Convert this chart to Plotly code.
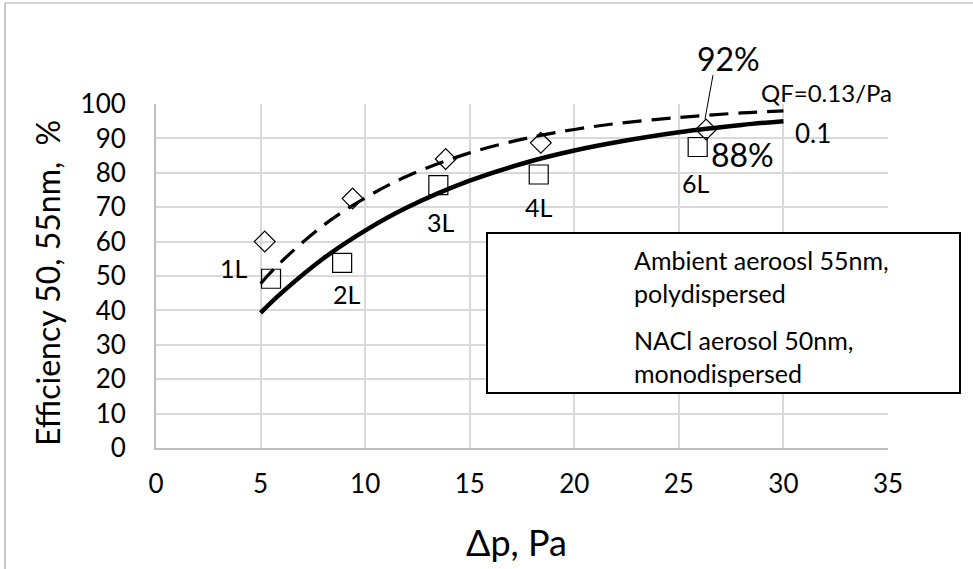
import plotly.graph_objects as go

# ---------------- data ----------------
curve_x = [5, 6, 8, 10, 12, 15, 18, 20, 22, 25, 28, 30]
curve_qf010 = [39.3, 45.1, 55.1, 63.2, 69.9, 77.7, 83.5, 86.5, 88.9, 91.8, 93.9, 95.0]
curve_qf013 = [47.8, 54.2, 64.7, 72.7, 79.0, 85.8, 90.4, 92.6, 94.3, 96.1, 97.4, 98.0]

ambient_x = [5.5, 8.9, 13.5, 18.3, 25.9]
ambient_y = [49.2, 53.8, 76.4, 79.5, 87.5]

nacl_x = [5.2, 9.4, 13.85, 18.4, 26.3]
nacl_y = [60.0, 72.5, 84.0, 88.7, 92.6]

point_labels = ["1L", "2L", "3L", "4L", "6L"]
x_ticks = [0, 5, 10, 15, 20, 25, 30, 35]
y_ticks = [0, 10, 20, 30, 40, 50, 60, 70, 80, 90, 100]

legend_names = ["Ambient aeroosl 55nm,<br>polydispersed", "NACl aerosol 50nm,<br>monodispersed"]

FONT = "Lato"
W, H = 973, 569

# plot area in pixels
PL, PR, PT, PB = 156, 888, 104, 448

fig = go.Figure()

fig.add_trace(go.Scatter(x=curve_x, y=curve_qf013, mode="lines", line=dict(color="black", width=3.2, dash="19px,10px", shape="spline"),
                         showlegend=False, hoverinfo="skip"))
fig.add_trace(go.Scatter(x=curve_x, y=curve_qf010, mode="lines", line=dict(color="black", width=4.5, shape="spline"),
                         showlegend=False, hoverinfo="skip"))
fig.add_trace(go.Scatter(x=ambient_x, y=ambient_y, mode="markers",
                         marker=dict(symbol="square-open", size=19, color="black", line=dict(width=1.2)),
                         showlegend=False))
fig.add_trace(go.Scatter(x=nacl_x, y=nacl_y, mode="markers",
                         marker=dict(symbol="diamond-open", size=16, color="black", line=dict(width=1.2)),
                         showlegend=False))

# pixel overlay axes for legend markers
fig.add_trace(go.Scatter(x=[588], y=[257], xaxis="x2", yaxis="y2", mode="markers",
                         marker=dict(symbol="square-open", size=15, color="black", line=dict(width=1.2)),
                         showlegend=False, hoverinfo="skip"))
fig.add_trace(go.Scatter(x=[591], y=[335], xaxis="x2", yaxis="y2", mode="markers",
                         marker=dict(symbol="diamond-open", size=11.5, color="black", line=dict(width=1.2)),
                         showlegend=False, hoverinfo="skip"))

grid = "#d9d9d9"
fig.update_layout(
    template="none",
    width=W, height=H, margin=dict(l=0, r=0, t=0, b=0, pad=0),
    paper_bgcolor="white", plot_bgcolor="rgba(0,0,0,0)",
    font=dict(family=FONT, color="black"),
    xaxis=dict(domain=[PL / W, PR / W], range=[0, 35], tickvals=x_ticks, showgrid=True, gridcolor=grid, gridwidth=1.8,
               zeroline=False, showline=True, linecolor="#bfbfbf", linewidth=2, ticks="", automargin=False,
               tickfont=dict(size=26, family=FONT), ticklabelstandoff=12),
    yaxis=dict(domain=[1 - PB / H, 1 - PT / H], range=[0, 100], tickvals=y_ticks, showgrid=True, gridcolor=grid,
               gridwidth=1.8, zeroline=False, showline=True, linecolor="#bfbfbf", linewidth=2, ticks="", automargin=False,
               tickfont=dict(size=26, family=FONT), ticklabelstandoff=23),
    xaxis2=dict(domain=[0, 1], range=[0, W], visible=False, fixedrange=True, anchor="y2", automargin=False),
    yaxis2=dict(domain=[0, 1], range=[H, 0], visible=False, fixedrange=True, anchor="x2", automargin=False),
)

shapes = [
    # outer chart border
    dict(type="rect", xref="x2", yref="y2", x0=5, y0=3, x1=W + 5, y1=H + 5, line=dict(color="#a6a6a6", width=1.2)),
    # legend box
    dict(type="rect", xref="x2", yref="y2", x0=487, y0=233, x1=960, y1=393, line=dict(color="black", width=2),
         fillcolor="white", layer="above"),
    # leader line for 92%
    dict(type="line", xref="x2", yref="y2", x0=713, y0=75, x1=705, y1=119, line=dict(color="black", width=1)),
]
fig.update_layout(shapes=shapes)

ann = []
label_pos = [(234, 268), (347, 294), (441, 222), (539, 207), (696, 183)]
for t, (px, py) in zip(point_labels, label_pos):
    ann.append(dict(text=t, x=px, y=py, xref="x2", yref="y2", showarrow=False, font=dict(size=25, family=FONT)))

ann += [
    dict(text="92%", x=728, y=58, xref="x2", yref="y2", showarrow=False, font=dict(size=32, family=FONT)),
    dict(text="88%", x=742, y=154, xref="x2", yref="y2", showarrow=False, font=dict(size=32, family=FONT)),
    dict(text="QF=0.13/Pa", x=826, y=92, xref="x2", yref="y2", showarrow=False, font=dict(size=24, family=FONT)),
    dict(text="0.1", x=813, y=133, xref="x2", yref="y2", showarrow=False, font=dict(size=26, family=FONT)),
    dict(text="Efficiency 50, 55nm,  %", x=47, y=283, xref="x2", yref="y2", showarrow=False, textangle=-90,
         font=dict(size=32, family=FONT)),
    dict(text="Δp, Pa", x=516, y=542, xref="x2", yref="y2", showarrow=False, font=dict(size=36, family=FONT)),
    dict(text=legend_names[0], x=632, y=276, xref="x2", yref="y2", xanchor="left", showarrow=False, align="left",
         font=dict(size=25, family=FONT)),
    dict(text=legend_names[1], x=632, y=356, xref="x2", yref="y2", xanchor="left", showarrow=False, align="left",
         font=dict(size=25, family=FONT)),
]
fig.update_layout(annotations=ann)

fig.write_html("out.html",
               config={"displayModeBar": False},
               post_script="document.body.style.margin='0';document.body.style.overflow='hidden';"
                           "document.documentElement.style.overflow='hidden';")
